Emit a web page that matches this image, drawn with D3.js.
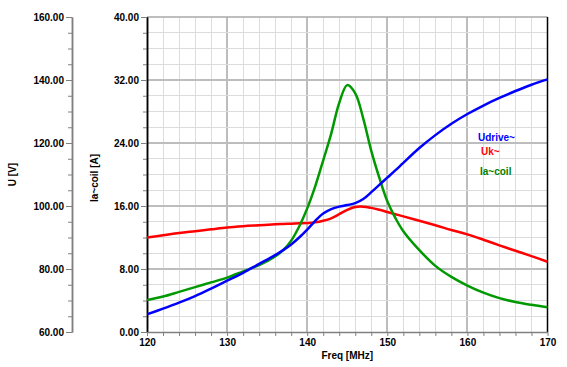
<!DOCTYPE html>
<html><head><meta charset="utf-8">
<script src="https://cdn.jsdelivr.net/npm/d3@7"></script>
<style>
html,body{margin:0;padding:0;background:#fff;}
svg{display:block;font-family:"Liberation Sans",Arial,sans-serif;}
</style></head><body>
<svg id="c" width="567" height="367"></svg>
<script>
const freq = [120,122,124,126,128,130,132,134,136,137,138,139,140,141,142,143,144,145,146,147,148,149,150,151,152,154,156,158,160,162,164,166,168,170];
const udrive = [65.6,67.4,69.3,71.4,73.8,76.3,78.8,81.6,84.4,86.0,87.8,90.0,92.5,95.3,97.6,99.0,99.8,100.3,100.9,102.2,104.4,106.7,109.0,111.3,113.7,118.4,122.5,126.1,129.2,131.9,134.3,136.5,138.5,140.2];
const uk = [90.0,90.7,91.4,92.0,92.6,93.2,93.6,93.9,94.2,94.3,94.4,94.5,94.6,94.8,95.3,96.1,97.4,98.8,99.7,99.8,99.4,98.8,98.1,97.4,96.7,95.3,93.9,92.4,91.0,89.3,87.5,85.8,84.1,82.3];
const iacoil = [4.06,4.5,5.1,5.7,6.3,6.9,7.7,8.5,9.6,10.4,11.6,13.4,15.7,18.5,21.8,25.2,29.1,31.35,30.3,27.1,23.0,19.6,16.6,14.5,12.8,10.4,8.4,7.0,5.9,5.0,4.3,3.8,3.45,3.15];
const seriesNames = ["Udrive~","Uk~","Ia~coil"];
const seriesColors = ["#0000ff","#ff0000","#009900"];
const legendColors = ["#0000ff","#ff0000","#008000"];
const xMajor = [120,130,140,150,160,170];
const vMajor = [60,80,100,120,140,160];
const aMajor = [0,8,16,24,32,40];

const svg = d3.select("#c");
const L = 147, R = 547.5, T = 17, B = 332;
const x = d3.scaleLinear().domain([120,170]).range([L,R]);
const yV = d3.scaleLinear().domain([60,160]).range([B,T]);
const yA = d3.scaleLinear().domain([0,40]).range([B,T]);

// grid
const g = svg.append("g");
d3.range(120,171,2).forEach(f=>{
  const major = f%10===0;
  if (f===120||f===170) return;
  g.append("line").attr("x1",x(f)).attr("x2",x(f)).attr("y1",T).attr("y2",B)
   .attr("stroke",major?"#bdbdbd":"#dcdcdc").attr("stroke-width",major?2:1)
   .attr("shape-rendering","crispEdges");
});
d3.range(0,41,2).forEach(a=>{
  if (a===0||a===40) return;
  const major = a%8===0;
  g.append("line").attr("x1",L).attr("x2",R).attr("y1",yA(a)).attr("y2",yA(a))
   .attr("stroke",major?"#bdbdbd":"#dcdcdc").attr("stroke-width",major?1.5:1)
   .attr("shape-rendering","crispEdges");
});
// borders
svg.append("line").attr("x1",L).attr("x2",R).attr("y1",T).attr("y2",T).attr("stroke","#a8a8a8").attr("stroke-width",1.5);
svg.append("line").attr("x1",R).attr("x2",R).attr("y1",T).attr("y2",B).attr("stroke","#000").attr("stroke-width",1.5);

function styleAxis(sel, col){
  sel.selectAll("path.domain").attr("stroke",col).attr("stroke-width",1.5);
  sel.selectAll(".tick line").attr("stroke","#808080");
  sel.selectAll("text").attr("font-size","10px").attr("font-weight","bold").attr("fill","#000")
     .attr("font-family","'Liberation Sans',Arial,sans-serif");
}
// V axis
const axV1 = svg.append("g").attr("transform",`translate(72,0)`)
  .call(d3.axisLeft(yV).tickValues(d3.range(60,161,5)).tickFormat("").tickSize(4).tickSizeOuter(0));
styleAxis(axV1,"#808080");
const axV2 = svg.append("g").attr("transform",`translate(72,0)`)
  .call(d3.axisLeft(yV).tickValues(vMajor).tickFormat(d3.format(".2f")).tickSize(6).tickPadding(2).tickSizeOuter(0));
styleAxis(axV2,"#808080");
// A axis
const axA1 = svg.append("g").attr("transform",`translate(${L},0)`)
  .call(d3.axisLeft(yA).tickValues(d3.range(0,41,2)).tickFormat("").tickSize(4).tickSizeOuter(0));
styleAxis(axA1,"#000");
const axA2 = svg.append("g").attr("transform",`translate(${L},0)`)
  .call(d3.axisLeft(yA).tickValues(aMajor).tickFormat(d3.format(".2f")).tickSize(6).tickPadding(2).tickSizeOuter(0));
styleAxis(axA2,"#000");
// X axis
const axX = svg.append("g").attr("transform",`translate(0,${B})`)
  .call(d3.axisBottom(x).tickValues(d3.range(120,171,2)).tickFormat(d=>xMajor.includes(d)?d:"").tickSize(4).tickPadding(3).tickSizeOuter(0));
styleAxis(axX,"#808080");

// titles
svg.append("text").attr("transform","translate(16,174.5) rotate(-90)").attr("text-anchor","middle")
  .attr("font-size","10px").attr("font-weight","bold").text("U [V]");
svg.append("text").attr("transform","translate(97.5,178) rotate(-90)").attr("text-anchor","middle")
  .attr("font-size","10px").attr("font-weight","bold").text("Ia~coil [A]");
svg.append("text").attr("x",(L+R)/2).attr("y",359).attr("text-anchor","middle")
  .attr("font-size","10px").attr("font-weight","bold").text("Freq [MHz]");

// curves
const lineV = d3.line().x((d,i)=>x(freq[i])).y(d=>yV(d)).curve(d3.curveCatmullRom.alpha(0.5));
const lineA = d3.line().x((d,i)=>x(freq[i])).y(d=>yA(d)).curve(d3.curveCatmullRom.alpha(0.5));
const clip = svg.append("clipPath").attr("id","pc").append("rect").attr("x",L).attr("y",T).attr("width",R-L+2).attr("height",B-T);
const curves = svg.append("g").attr("clip-path","url(#pc)");
curves.append("path").attr("d",lineV(uk)).attr("fill","none").attr("stroke",seriesColors[1]).attr("stroke-width",2.5);
curves.append("path").attr("d",lineA(iacoil)).attr("fill","none").attr("stroke",seriesColors[2]).attr("stroke-width",2.5);
curves.append("path").attr("d",lineV(udrive)).attr("fill","none").attr("stroke",seriesColors[0]).attr("stroke-width",2.5);

// legend
const legPos = [[478,141],[481,155],[480,175]];
seriesNames.forEach((n,i)=>{
  svg.append("text").attr("x",legPos[i][0]).attr("y",legPos[i][1]).attr("fill",legendColors[i])
   .attr("font-size","10px").attr("font-weight","bold").text(n);
});
</script>
</body></html>
